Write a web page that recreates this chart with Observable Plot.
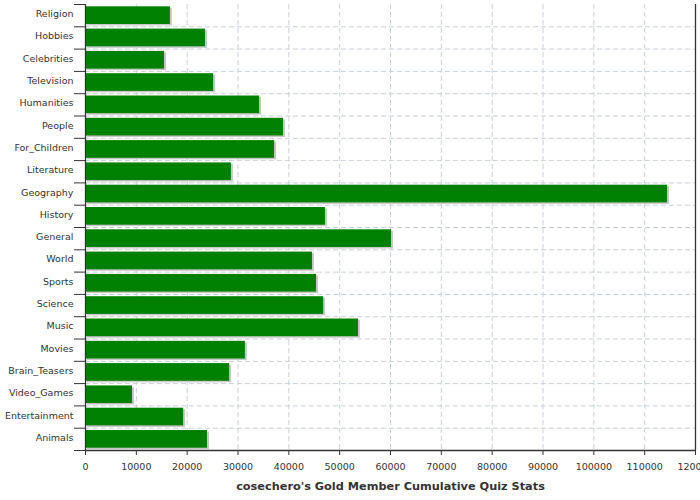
<!DOCTYPE html>
<html>
<head>
<meta charset="utf-8">
<script src="https://cdn.jsdelivr.net/npm/d3@7"></script>
<script src="https://cdn.jsdelivr.net/npm/@observablehq/plot@0.6"></script>
<style>
  html, body { margin: 0; padding: 0; background: #fff; }
  #chart svg { display: block; }
</style>
</head>
<body>
<div id="chart"></div>
<script>
const categories = ["Religion","Hobbies","Celebrities","Television","Humanities","People","For_Children","Literature","Geography","History","General","World","Sports","Science","Music","Movies","Brain_Teasers","Video_Games","Entertainment","Animals"];
const values = [16700, 23600, 15550, 25200, 34250, 38950, 37200, 28700, 114500, 47200, 60200, 44650, 45450, 46850, 53700, 31450, 28350, 9250, 19300, 24000];
const xTicks = [0, 10000, 20000, 30000, 40000, 50000, 60000, 70000, 80000, 90000, 100000, 110000, 120000];
const xLabel = "cosechero's Gold Member Cumulative Quiz Stats";

const data = categories.map((name, i) => ({name, i, value: values[i]}));
const bounds = d3.range(categories.length + 1);
const inner = d3.range(1, categories.length);

const font = "DejaVu Sans, Verdana, sans-serif";
const gridStyle = {stroke: "#c8d0d8", strokeOpacity: 1, strokeDasharray: "5,3"};

const chart = Plot.plot({
  width: 700,
  height: 500,
  marginLeft: 85,
  marginRight: 5,
  marginTop: 4,
  marginBottom: 50,
  style: {fontFamily: font, fontSize: "9.5px", color: "#333", background: "#fff"},
  x: {domain: [0, 120000], axis: null},
  y: {domain: [0, categories.length], reverse: true, axis: null},
  marks: [
    Plot.gridX(xTicks.slice(1, -1), gridStyle),
    Plot.gridY(inner, gridStyle),
    Plot.rectX(data, {x1: 0, x2: "value", y1: "i", y2: d => d.i + 1, insetTop: 2.3, insetBottom: 2.3, fill: "#c8c8c8", dx: 2, dy: 1.5}),
    Plot.rectX(data, {x1: 0, x2: "value", y1: "i", y2: d => d.i + 1, insetTop: 2.3, insetBottom: 2.3, fill: "#008000"}),
    Plot.axisY(bounds, {tickSize: 11, tickFormat: () => "", label: null, stroke: "#333", strokeOpacity: 1}),
    Plot.text(data, {x: 0, y: d => d.i + 0.5, text: "name", textAnchor: "end", dx: -12, dy: -1.5, fill: "#333", fontSize: 9.5}),
    Plot.axisX(xTicks, {tickSize: 5, tickPadding: 8, stroke: "#333", strokeOpacity: 1, fill: "#333", label: null, tickFormat: d => String(d)}),
    Plot.ruleX([0, 120000], {stroke: "#333", strokeWidth: 1.3}),
    Plot.ruleY([categories.length], {stroke: "#333", strokeWidth: 1.3}),
    Plot.text([xLabel], {frameAnchor: "bottom", dy: 39, fontWeight: "bold", fontSize: 11.3, fill: "#333", text: d => d})
  ]
});
document.getElementById("chart").appendChild(chart);
</script>
</body>
</html>
